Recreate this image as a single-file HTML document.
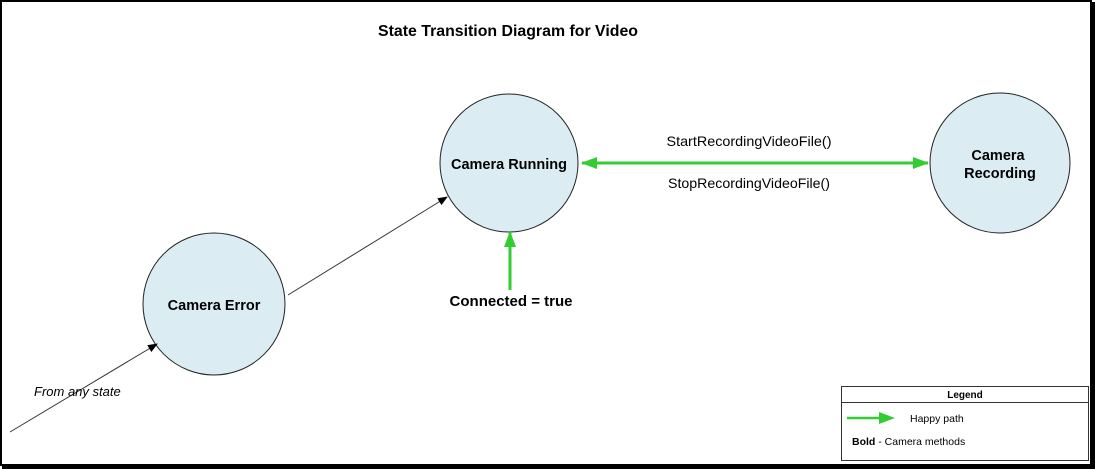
<!DOCTYPE html>
<html><head><style>
html,body{margin:0;padding:0;background:#fff;}
svg{display:block;}
text{font-family:"Liberation Sans",Arial,sans-serif;}
</style></head><body>
<svg width="1095" height="469" viewBox="0 0 1095 469" xmlns="http://www.w3.org/2000/svg">
<defs>
<marker id="ab" markerWidth="10" markerHeight="8" refX="9" refY="4" orient="auto" markerUnits="userSpaceOnUse"><path d="M0,0 L10,4 L0,8 z" fill="#000"/></marker>
<marker id="ag" markerWidth="16" markerHeight="12" refX="15" refY="6" orient="auto-start-reverse" markerUnits="userSpaceOnUse"><path d="M0,0 L16,6 L0,12 z" fill="#33cc33"/></marker>
</defs>
<rect x="0" y="0" width="1095" height="469" fill="#fff"/>
<rect x="1" y="1" width="1090" height="464" fill="none" stroke="#000" stroke-width="2"/>
<rect x="1091" y="2" width="4" height="467" fill="#000"/>
<rect x="2" y="465" width="1093" height="4" fill="#000"/>
<text x="508" y="36" text-anchor="middle" font-size="16" font-weight="bold" textLength="260" lengthAdjust="spacingAndGlyphs">State Transition Diagram for Video</text>
<circle cx="509" cy="163" r="69" fill="#dbedf3" stroke="#222" stroke-width="1"/>
<circle cx="1000" cy="163" r="70" fill="#dbedf3" stroke="#222" stroke-width="1"/>
<circle cx="214" cy="304" r="71" fill="#dbedf3" stroke="#222" stroke-width="1"/>
<text x="509" y="169" text-anchor="middle" font-size="14.5" font-weight="bold">Camera Running</text>
<text x="998" y="160" text-anchor="middle" font-size="14.5" font-weight="bold">Camera</text>
<text x="1000" y="178" text-anchor="middle" font-size="14.5" font-weight="bold">Recording</text>
<text x="214" y="310" text-anchor="middle" font-size="14.5" font-weight="bold">Camera Error</text>
<line x1="288" y1="295" x2="447" y2="197" stroke="#333" stroke-width="1" marker-end="url(#ab)"/>
<line x1="10" y1="432" x2="157" y2="344" stroke="#333" stroke-width="1" marker-end="url(#ab)"/>
<text x="34" y="396" font-size="13" font-style="italic">From any state</text>
<line x1="510" y1="290" x2="510" y2="232" stroke="#33cc33" stroke-width="3" marker-end="url(#ag)"/>
<text x="511" y="306" text-anchor="middle" font-size="15" font-weight="bold">Connected = true</text>
<line x1="582" y1="163" x2="928" y2="163" stroke="#33cc33" stroke-width="3" marker-start="url(#ag)" marker-end="url(#ag)"/>
<text x="749" y="146" text-anchor="middle" font-size="14" textLength="165" lengthAdjust="spacingAndGlyphs">StartRecordingVideoFile()</text>
<text x="749" y="188" text-anchor="middle" font-size="14" textLength="162" lengthAdjust="spacingAndGlyphs">StopRecordingVideoFile()</text>
<rect x="841.5" y="386.5" width="247" height="74" fill="#fff" stroke="#333" stroke-width="1"/>
<line x1="841" y1="402.5" x2="1089" y2="402.5" stroke="#333" stroke-width="1"/>
<text x="965" y="398" text-anchor="middle" font-size="10" font-weight="bold">Legend</text>
<line x1="847" y1="418" x2="880" y2="418" stroke="#33cc33" stroke-width="2.5"/>
<path d="M879,412 L895,418 L879,424 z" fill="#33cc33"/>
<text x="910" y="422" font-size="10.5">Happy path</text>
<text x="852" y="445" font-size="10.5"><tspan font-weight="bold">Bold</tspan> - Camera methods</text>
</svg>
</body></html>
